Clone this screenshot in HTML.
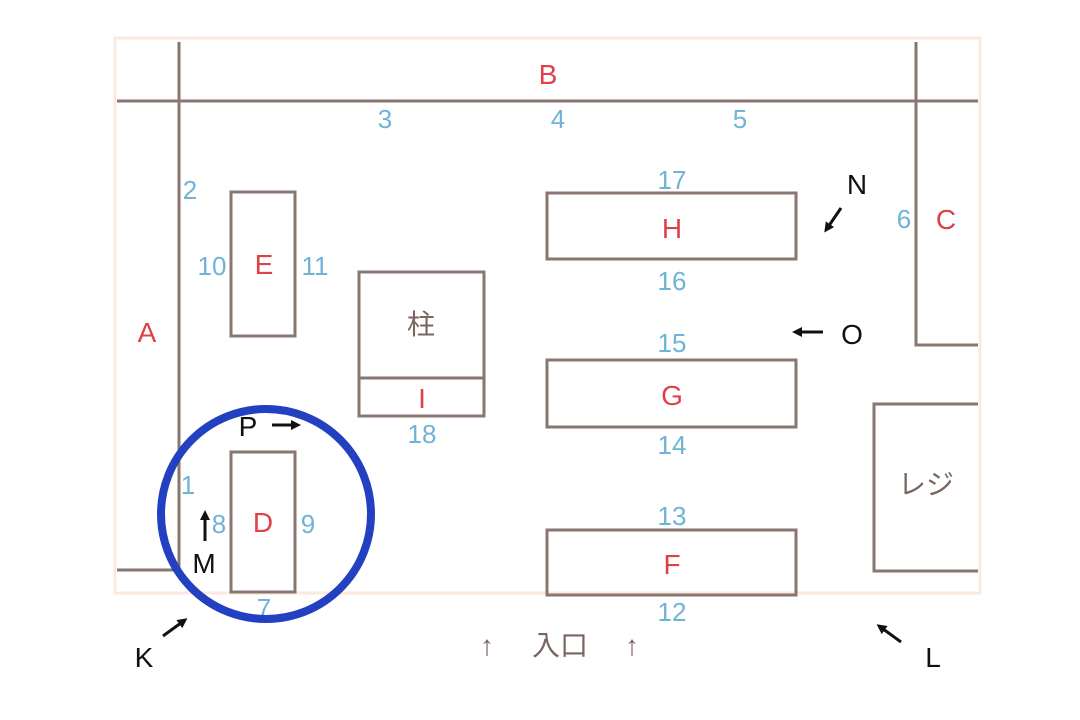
<!DOCTYPE html>
<html><head><meta charset="utf-8"><style>
html,body{margin:0;padding:0;background:#fff;width:1080px;height:720px;overflow:hidden}
svg text{font-family:"Liberation Sans","Noto Sans CJK JP",sans-serif}
</style></head><body>
<svg width="1080" height="720" viewBox="0 0 1080 720" xmlns="http://www.w3.org/2000/svg">
<defs><marker id="ah" markerWidth="10" markerHeight="10" refX="7" refY="5" orient="auto" markerUnits="userSpaceOnUse"><path d="M0,0 L10,5 L0,10 z" fill="#111"/></marker></defs>
<rect x="115" y="38" width="865" height="555" fill="none" stroke="#fbe9e0" stroke-width="3"/>
<g stroke="#8a7670" stroke-width="3" fill="none">
<line x1="179" y1="42" x2="179" y2="570"/>
<line x1="117" y1="101" x2="978" y2="101"/>
<polyline points="916,42 916,345 978,345"/>
<line x1="117" y1="570" x2="179" y2="570"/>
<rect x="231" y="192" width="64" height="144"/>
<rect x="359" y="272" width="125" height="144"/>
<line x1="359" y1="378" x2="484" y2="378"/>
<rect x="547" y="193" width="249" height="66"/>
<rect x="547" y="360" width="249" height="67"/>
<rect x="547" y="530" width="249" height="65"/>
<rect x="231" y="452" width="64" height="140"/>
<polyline points="978,404 874,404 874,571 978,571"/>
</g>
<g fill="#e0404a" font-size="28" text-anchor="middle">
<text x="548" y="84">B</text><text x="147" y="342">A</text><text x="946" y="229">C</text>
<text x="264" y="274">E</text><text x="672" y="238">H</text><text x="672" y="405">G</text>
<text x="672" y="574">F</text><text x="263" y="532">D</text><text x="422" y="408">I</text>
</g>
<g fill="#6fb3d6" font-size="26" text-anchor="middle">
<text x="385" y="128">3</text><text x="558" y="128">4</text><text x="740" y="128">5</text>
<text x="190" y="199">2</text><text x="904" y="228">6</text>
<text x="212" y="275">10</text><text x="315" y="275">11</text>
<text x="672" y="189">17</text><text x="672" y="290">16</text><text x="672" y="352">15</text>
<text x="672" y="454">14</text><text x="672" y="525">13</text><text x="672" y="621">12</text>
<text x="422" y="443">18</text><text x="188" y="494">1</text><text x="219" y="533">8</text>
<text x="308" y="533">9</text><text x="264" y="617">7</text>
</g>
<g fill="#7a6660" font-size="28" text-anchor="middle">
<text x="421" y="334">柱</text><text x="926" y="494">レジ</text>
<text x="560" y="655">入口</text>
<text x="487" y="655">↑</text><text x="632" y="655">↑</text>
</g>
<g fill="#111" font-size="28" text-anchor="middle">
<text x="857" y="194">N</text><text x="852" y="344">O</text><text x="248" y="436">P</text>
<text x="204" y="573">M</text><text x="144" y="667">K</text><text x="933" y="667">L</text>
</g>
<g stroke="#111" stroke-width="3" marker-end="url(#ah)">
<line x1="841" y1="208" x2="826" y2="230"/>
<line x1="823" y1="332" x2="795" y2="332"/>
<line x1="272" y1="425" x2="298" y2="425"/>
<line x1="205" y1="541" x2="205" y2="513"/>
<line x1="163" y1="636" x2="185" y2="620"/>
<line x1="901" y1="642" x2="879" y2="626"/>
</g>
<circle cx="266" cy="514" r="105" fill="none" stroke="#2340c0" stroke-width="8"/>
</svg>
</body></html>
